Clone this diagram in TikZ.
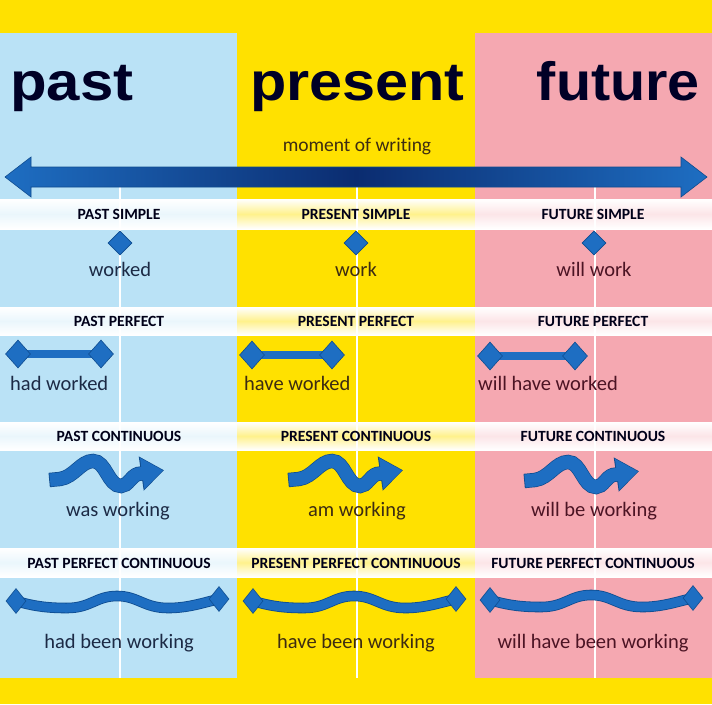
\documentclass[tikz,border=0pt]{standalone}
\usepackage{fontspec}
\setmainfont{Carlito}[Ligatures=NoCommon]
\newfontfamily\titlefont{Liberation Sans}
\usetikzlibrary{arrows.meta,shapes.geometric}
\pgfdeclarelayer{back}
\pgfdeclarelayer{mid}
\pgfsetlayers{back,mid,main}
\definecolor{pastbg}{HTML}{BAE2F6}
\definecolor{presbg}{HTML}{FFE100}
\definecolor{futbg}{HTML}{F5A8B1}
\definecolor{shapeblue}{HTML}{1E6EC2}
\definecolor{shapedark}{HTML}{0E4C90}
\definecolor{navy}{HTML}{0B2C70}
\definecolor{pasttxt}{HTML}{1C2A45}
\definecolor{prestxt}{HTML}{3D2C12}
\definecolor{futtxt}{HTML}{4C1424}
\begin{document}
\begin{tikzpicture}[x=1pt,y=-1pt,
  title/.style={font=\titlefont\bfseries\fontsize{54}{54}\selectfont, text=black!85!blue, inner sep=0},
  lbl/.style={font=\bfseries\fontsize{15.6}{16}\selectfont, text=black!90!blue, inner sep=0, anchor=base},
  verb/.style={font=\fontsize{20.5}{22}\selectfont, inner sep=0, anchor=base},
  vline/.style={white, line width=2.5pt},
  band/.style={top color=white, bottom color=white, middle color=#1},
  sdiam/.style={diamond, fill=shapeblue, draw=shapedark, line width=0.6pt, minimum width=24pt, minimum height=24pt, inner sep=0},
  pdiam/.style={diamond, fill=shapeblue, draw=shapedark, line width=0.6pt, minimum width=25pt, minimum height=28pt, inner sep=0},
  wdiam/.style={diamond, fill=shapeblue, draw=shapedark, line width=0.6pt, minimum width=20pt, minimum height=25pt, inner sep=0},
  pbar/.style={draw=shapedark, line width=0.7pt, double=shapeblue, double distance=7.5pt},
  wave/.style={draw=shapedark, line width=0.8pt, double=shapeblue, double distance=9pt},
  contarrow/.pic={
    \draw[line width=14.4pt, shapedark, -{Triangle[length=23pt,width=33pt]}]
      (-0.8,0) -- (10,-1) .. controls (24,-3) and (31,-19) .. (43,-19)
      .. controls (56,-19) and (58,6) .. (71,6)
      .. controls (78,6) and (81,-4) .. (88,-6) -- (114,-9.8);
    \draw[line width=13pt, shapeblue, -{Triangle[length=21pt,width=30pt]}]
      (0,0) -- (10,-1) .. controls (24,-3) and (31,-19) .. (43,-19)
      .. controls (56,-19) and (58,6) .. (71,6)
      .. controls (78,6) and (81,-4) .. (88,-6) -- (113,-9.6);
  },
  ppcwave/.pic={
    \node[wdiam] (-l) at (0,0) {};
    \node[wdiam] (-r) at (203,-2) {};
    \begin{pgfonlayer}{mid}
    \draw[wave] (-l.center) .. controls (20,6) and (35,7) .. (51,7)
      .. controls (75,7) and (80,-5) .. (101,-5)
      .. controls (122,-5) and (128,7) .. (152,7)
      .. controls (172,7) and (186,2) .. (-r.center);
    \end{pgfonlayer}
  }
]
\useasboundingbox (0,0) rectangle (712,704);
\begin{pgfonlayer}{back}
\fill[presbg] (0,0) rectangle (712,704);
\fill[pastbg] (0,33) rectangle (237,678);
\fill[futbg] (475,33) rectangle (712,678);
% bands
\foreach \ya/\yb in {199/229, 307/335, 422/450, 548/577}{
  \shade[band=pastbg!30!white] (0,\ya) rectangle (237,\yb);
  \shade[band=presbg!45!white] (237,\ya) rectangle (475,\yb);
  \shade[band=futbg!30!white] (475,\ya) rectangle (712,\yb);
}
\draw[vline] (120,186) -- (120,678);
\draw[vline] (357,186) -- (357,678);
\draw[vline] (595,186) -- (595,678);
% timeline arrow
\shade[left color=shapeblue, right color=shapeblue, middle color=navy, draw=shapedark, line width=0.6pt]
  (5,177) -- (31,157) -- (31,167) -- (681,167) -- (681,157) -- (707,177)
  -- (681,197) -- (681,187) -- (31,187) -- (31,197) -- cycle;
\end{pgfonlayer}

% titles
\node[title, anchor=base west] (tpast) at (10,100) {\scalebox{1.11}[1]{past}};
\node[title, anchor=base west] (tpres) at (250,100) {\scalebox{1.1}[1]{present}};
\node[title, anchor=base east] (tfut) at (700,100) {\scalebox{1.065}[1]{future}};
\node[font=\fontsize{19.5}{21}\selectfont, text=prestxt, inner sep=0, anchor=base] (mow) at (357,151) {moment of writing};

% band labels
\node[lbl] (l11) at (119,219.5) {PAST SIMPLE};
\node[lbl] (l12) at (356,219.5) {PRESENT SIMPLE};
\node[lbl] (l13) at (593,219.5) {FUTURE SIMPLE};
\node[lbl] (l21) at (119,326.5) {PAST PERFECT};
\node[lbl] (l22) at (356,326.5) {PRESENT PERFECT};
\node[lbl] (l23) at (593,326.5) {FUTURE PERFECT};
\node[lbl] (l31) at (119,441.5) {PAST CONTINUOUS};
\node[lbl] (l32) at (356,441.5) {PRESENT CONTINUOUS};
\node[lbl] (l33) at (593,441.5) {FUTURE CONTINUOUS};
\node[lbl] (l41) at (119,568.5) {PAST PERFECT CONTINUOUS};
\node[lbl] (l42) at (356,568.5) {PRESENT PERFECT CONTINUOUS};
\node[lbl] (l43) at (593,568.5) {FUTURE PERFECT CONTINUOUS};

% simple
\node[sdiam] (s1) at (120,243) {};
\node[sdiam] (s2) at (356,243) {};
\node[sdiam] (s3) at (594,243) {};
\node[verb, text=pasttxt] (v11) at (120,276) {worked};
\node[verb, text=prestxt] (v12) at (356,276) {work};
\node[verb, text=futtxt] (v13) at (594,276) {will work};

% perfect
\node[pdiam] (pl1) at (18,354) {};
\node[pdiam] (pr1) at (101,354) {};
\node[pdiam] (pl2) at (252,355) {};
\node[pdiam] (pr2) at (332,355) {};
\node[pdiam] (pl3) at (490,356) {};
\node[pdiam] (pr3) at (575,356) {};
\begin{pgfonlayer}{mid}
\draw[pbar] (pl1.center) -- (pr1.center);
\draw[pbar] (pl2.center) -- (pr2.center);
\draw[pbar] (pl3.center) -- (pr3.center);
\end{pgfonlayer}
\node[verb, text=pasttxt, anchor=base west] (v21) at (10,390) {had worked};
\node[verb, text=prestxt, anchor=base west] (v22) at (244,390) {have worked};
\node[verb, text=futtxt, anchor=base west] (v23) at (478,390) {will have worked};

% continuous
\pic (ca1) at (50,480) {contarrow};
\pic (ca2) at (289,480) {contarrow};
\pic (ca3) at (525,481) {contarrow};
\node[verb, text=pasttxt] (v31) at (118,516) {was working};
\node[verb, text=prestxt] (v32) at (357,516) {am working};
\node[verb, text=futtxt] (v33) at (594,516) {will be working};

% perfect continuous
\pic (w1) at (16,601) {ppcwave};
\pic (w2) at (253,601) {ppcwave};
\pic (w3) at (490,600) {ppcwave};
\node[verb, text=pasttxt] (v41) at (119,648) {had been working};
\node[verb, text=prestxt] (v42) at (356,648) {have been working};
\node[verb, text=futtxt] (v43) at (593,648) {will have been working};
\end{tikzpicture}
\end{document}
